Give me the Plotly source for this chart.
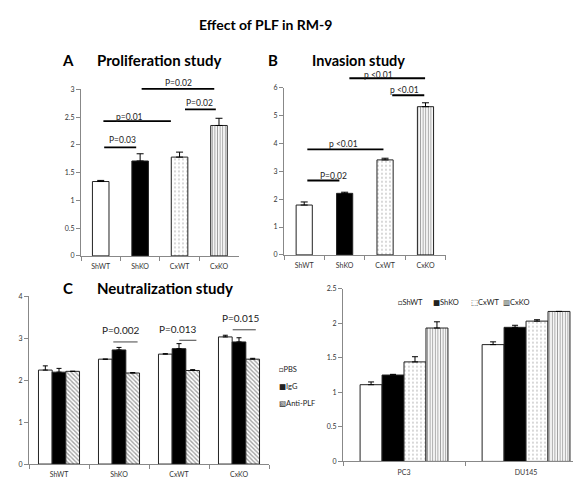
import plotly.graph_objects as go

# ---------------- data ----------------
categories = ["ShWT", "ShKO", "CxWT", "CxKO"]

prolif_values = [1.34, 1.71, 1.78, 2.35]
prolif_errors = [0.02, 0.13, 0.09, 0.13]

invasion_values = [1.79, 2.21, 3.41, 5.32]
invasion_errors = [0.11, 0.04, 0.06, 0.14]

treatments = ["PBS", "IgG", "Anti-PLF"]
neut_pbs = [2.24, 2.50, 2.62, 3.03]
neut_pbs_err = [0.10, 0.00, 0.01, 0.04]
neut_igg = [2.19, 2.72, 2.75, 2.91]
neut_igg_err = [0.09, 0.06, 0.12, 0.10]
neut_anti = [2.21, 2.17, 2.23, 2.50]
neut_anti_err = [0.00, 0.01, 0.02, 0.02]

cell_lines = ["PC3", "DU145"]
human_shwt = [1.11, 1.69]
human_shwt_err = [0.04, 0.04]
human_shko = [1.25, 1.94]
human_shko_err = [0.01, 0.03]
human_cxwt = [1.44, 2.03]
human_cxwt_err = [0.075, 0.02]
human_cxko = [1.93, 2.17]
human_cxko_err = [0.09, 0.00]

# significance brackets: (start, end, level, label, label_x, label_y)
brackets_A = [
    (0.05, 0.90, 1.956, "P=0.03", 0.55, 2.09),
    (0.03, 1.78, 2.43, "p=0.01", 0.72, 2.51),
    (2.10, 2.92, 2.64, "P=0.02", 2.51, 2.76),
    (1.00, 2.88, 3.01, "P=0.02", 1.98, 3.12),
]
brackets_B = [
    (0.04, 0.87, 2.67, "P=0.02", 0.72, 2.85),
    (0.04, 1.96, 3.79, "p <0.01", 0.97, 3.99),
    (2.14, 2.97, 5.73, "p <0.01", 2.49, 5.93),
    (1.08, 2.99, 6.34, "p <0.01", 1.83, 6.47),
]
brackets_C = [
    (0.88, 1.31, 2.91, "P=0.002", 1.03, 3.20),
    (1.98, 2.29, 2.95, "P=0.013", 1.98, 3.23),
    (2.87, 3.28, 3.20, "P=0.015", 3.03, 3.48),
]

# ---------------- styles ----------------
FONT = "Lato, 'DejaVu Sans', sans-serif"
W, H = 581, 481
PAGE_OFF = 8  # default page margin of the html body
OUTLINE = dict(color="#222222", width=1)
STYLE = {
    "ShWT": dict(color="white", shape="", fg="black", size=4, solidity=0.3),
    "ShKO": dict(color="black", shape="", fg="black", size=4, solidity=0.3),
    "CxWT": dict(color="white", shape=".", fg="#777777", size=4, solidity=0.12),
    "CxKO": dict(color="white", shape="|", fg="black", size=2.6, solidity=0.4),
    "PBS": dict(color="white", shape="", fg="black", size=4, solidity=0.3),
    "IgG": dict(color="black", shape="", fg="black", size=4, solidity=0.3),
    "Anti-PLF": dict(color="white", shape="\\", fg="#333333", size=3, solidity=0.45),
}


def marker_for(keys):
    s = [STYLE[k] for k in keys]
    return dict(
        color=[v["color"] for v in s],
        line=OUTLINE,
        pattern=dict(
            shape=[v["shape"] for v in s],
            fgcolor=[v["fg"] for v in s],
            bgcolor=[v["color"] for v in s],
            size=[v["size"] for v in s],
            solidity=[v["solidity"] for v in s],
            fillmode="overlay",
        ),
    )


def err(vals, capw):
    return dict(type="data", array=vals, arrayminus=[0] * len(vals), symmetric=False,
                color="black", thickness=1, width=capw)


fig = go.Figure()

# Panel A
fig.add_trace(go.Bar(x=categories, y=prolif_values, width=0.42, marker=marker_for(categories),
                     error_y=err(prolif_errors, 3.5), xaxis="x", yaxis="y", showlegend=False))
# Panel B
fig.add_trace(go.Bar(x=categories, y=invasion_values, width=0.40, marker=marker_for(categories),
                     error_y=err(invasion_errors, 3.5), xaxis="x2", yaxis="y2", showlegend=False))
# Panel C
c_series = [("PBS", neut_pbs, neut_pbs_err), ("IgG", neut_igg, neut_igg_err),
            ("Anti-PLF", neut_anti, neut_anti_err)]
c_w = 0.228
for i, (name, vals, errs) in enumerate(c_series):
    fig.add_trace(go.Bar(x=categories, y=vals, name=name, width=c_w, offset=-1.5 * c_w + i * c_w,
                         marker=marker_for([name] * len(vals)), error_y=err(errs, 2.5),
                         xaxis="x3", yaxis="y3", showlegend=False))
# Panel D
d_series = [("ShWT", human_shwt, human_shwt_err), ("ShKO", human_shko, human_shko_err),
            ("CxWT", human_cxwt, human_cxwt_err), ("CxKO", human_cxko, human_cxko_err)]
d_w = 0.18
for i, (name, vals, errs) in enumerate(d_series):
    fig.add_trace(go.Bar(x=cell_lines, y=vals, name=name, width=d_w, offset=-2 * d_w + i * d_w,
                         marker=marker_for([name] * len(vals)), error_y=err(errs, 3),
                         xaxis="x4", yaxis="y4", showlegend=False))


def px_x(p):
    return (p - PAGE_OFF) / W


def px_y(p):
    return 1 - (p - PAGE_OFF) / H


axis_common = dict(showline=True, linecolor="#888888", linewidth=1, showgrid=False, zeroline=False,
                   tickfont=dict(size=7, color="#333333", family=FONT), fixedrange=True)

xcat = dict(axis_common, type="category", tickson="boundaries", ticks="outside", ticklen=4,
            tickcolor="#888888", ticklabelstandoff=4)
ycom = dict(axis_common, ticks="outside", ticklen=4, tickcolor="#888888")

YMAX = {"y": 3, "y2": 6, "y3": 4, "y4": 2.5}

fig.update_layout(
    width=W, height=H, margin=dict(l=0, r=0, t=0, b=0),
    paper_bgcolor="white", plot_bgcolor="white",
    font=dict(family=FONT, color="black"),
    barmode="overlay",
    xaxis=dict(xcat, domain=[px_x(81), px_x(238.7)], range=[-0.5, 3.5], anchor="y"),
    yaxis=dict(ycom, domain=[px_y(255), px_y(85.7)], range=[0, YMAX["y"]], dtick=0.5, anchor="x"),
    xaxis2=dict(xcat, domain=[px_x(284), px_x(445.7)], range=[-0.5, 3.5], anchor="y2"),
    yaxis2=dict(ycom, domain=[px_y(254), px_y(84)], range=[0, YMAX["y2"]], dtick=1, anchor="x2"),
    xaxis3=dict(xcat, domain=[px_x(29), px_x(269)], range=[-0.5, 3.5], anchor="y3"),
    yaxis3=dict(ycom, domain=[px_y(466.7), px_y(296)], range=[0, YMAX["y3"]], dtick=1, anchor="x3"),
    xaxis4=dict(xcat, domain=[px_x(343), 1.0], range=[-0.5, 1.516], anchor="y4"),
    yaxis4=dict(ycom, domain=[px_y(464), px_y(288.3)], range=[0, YMAX["y4"]], dtick=0.5, anchor="x4"),
)


def add_brackets(brackets, xr, yr, lw, lc, fs):
    ydom = yr + " domain"
    top = YMAX[yr]
    for x0, x1, lvl, label, lx, ly in brackets:
        fig.add_annotation(x=x1, y=lvl / top, ax=x0, ay=lvl / top, xref=xr, yref=ydom,
                           axref=xr, ayref=ydom,
                           text="", showarrow=True, arrowhead=0, arrowwidth=lw, arrowcolor=lc,
                           standoff=0, startstandoff=0)
        fig.add_annotation(x=lx, y=ly / top, xref=xr, yref=ydom, text=label, showarrow=False,
                           xanchor="center", yanchor="middle",
                           font=dict(size=fs, color="#222222", family=FONT))


add_brackets(brackets_A, "x", "y", 1.8, "black", 8.5)
add_brackets(brackets_B, "x2", "y2", 1.8, "black", 8.5)
add_brackets(brackets_C, "x3", "y3", 1.0, "#444444", 10)

# titles
titles = [
    ("Effect of PLF in RM-9", 265, 20, 14),
    ("A", 68, 56, 15), ("Proliferation study", 159, 56, 15),
    ("B", 273, 56, 15), ("Invasion study", 358, 56, 14.5),
    ("C", 68, 288, 15), ("Neutralization study", 165, 288, 15),
]
for txt, x, y, fs in titles:
    fig.add_annotation(x=px_x(x), y=px_y(y), xref="paper", yref="paper", text="<b>%s</b>" % txt,
                       xanchor="center", yanchor="middle",
                       showarrow=False, font=dict(size=fs, family=FONT, color="black"))

# legends (swatch + label)
legend_C = [("\u25A1", "PBS", 371), ("\u25A0", "IgG", 388), ("\u25A7", "Anti-PLF", 405)]
for sym, name, y in legend_C:
    fig.add_annotation(x=px_x(277), y=px_y(y), xref="paper", yref="paper",
                       xanchor="left", yanchor="middle",
                       text=sym + name, showarrow=False,
                       font=dict(size=7.5, family=FONT, color="#222222"))

legend_D = [("\u25A1", "ShWT", 396), ("\u25A0", "ShKO", 431), ("\u2B1A", "CxWT", 469), ("\u25A5", "CxKO", 501)]
for sym, name, x in legend_D:
    fig.add_annotation(x=px_x(x), y=px_y(302), xref="paper", yref="paper",
                       xanchor="left", yanchor="middle",
                       text=sym + name, showarrow=False,
                       font=dict(size=7.5, family=FONT, color="#222222"))

fig.write_html("out.html")
